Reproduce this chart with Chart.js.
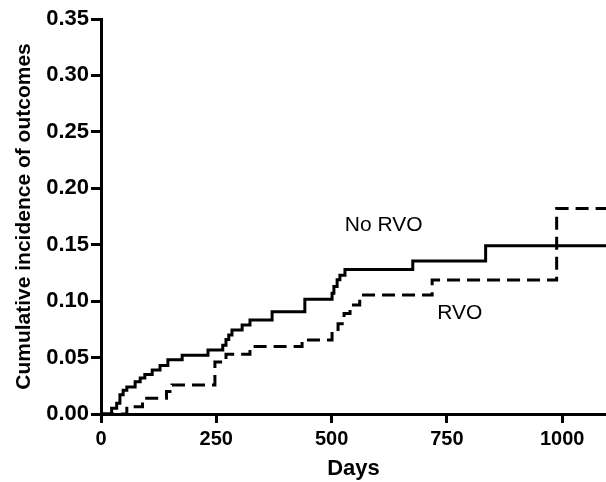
<!DOCTYPE html>
<html>
<head>
<meta charset="utf-8">
<script src="https://cdn.jsdelivr.net/npm/chart.js@4"></script>
<style>
  html, body { margin: 0; padding: 0; background: #fff; }
  #wrap { width: 606px; height: 482px; }
</style>
</head>
<body>
<div id="wrap"><canvas id="incidenceChart" width="606" height="482"></canvas></div>
<script>
// step points (day, cumulative incidence from that day on)
const noRvoDays = [0, 23, 34, 41, 48, 56, 74, 85, 95, 111, 128, 145, 176, 232, 264, 271, 277, 284, 306, 323, 371, 442, 501, 505, 512, 518, 529, 676, 834, 1095];
const noRvoInc  = [0, 0.005, 0.0095, 0.017, 0.021, 0.024, 0.0286, 0.032, 0.035, 0.039, 0.043, 0.048, 0.052, 0.0567, 0.061, 0.066, 0.070, 0.0744, 0.0789, 0.0833, 0.0906, 0.1016, 0.107, 0.113, 0.119, 0.123, 0.128, 0.1356, 0.149, 0.149];

const rvoDays = [0, 56, 90, 142, 154, 247, 271, 323, 436, 501, 514, 527, 540, 561, 718, 988, 1095];
const rvoInc  = [0, 0.0065, 0.014, 0.02, 0.0257, 0.046, 0.053, 0.0597, 0.0656, 0.073, 0.080, 0.089, 0.0966, 0.1054, 0.1187, 0.182, 0.182];

const xTicks = [0, 250, 500, 750, 1000];
const yTicks = [0, 0.05, 0.10, 0.15, 0.20, 0.25, 0.30, 0.35];

// curve labels placed in data units
const curveLabels = [
  { text: 'No RVO', x: 613, y: 0.1675 },
  { text: 'RVO', x: 778, y: 0.089 }
];

function toPoints(days, vals) {
  return days.map((d, i) => ({ x: d, y: vals[i] }));
}

const fontFam = "'Liberation Sans', Arial, Helvetica, sans-serif";

const labelPlugin = {
  id: 'curveLabels',
  afterDatasetsDraw(chart) {
    const ctx = chart.ctx;
    const xs = chart.scales.x, ys = chart.scales.y;
    ctx.save();
    ctx.font = '21px ' + fontFam;
    ctx.fillStyle = '#000';
    ctx.textAlign = 'center';
    ctx.textBaseline = 'middle';
    curveLabels.forEach(l => {
      ctx.fillText(l.text, xs.getPixelForValue(l.x), ys.getPixelForValue(l.y));
    });
    ctx.restore();
  }
};

const whiteBg = {
  id: 'whiteBg',
  beforeDraw(chart) {
    const ctx = chart.ctx;
    ctx.save();
    ctx.fillStyle = '#fff';
    ctx.fillRect(0, 0, chart.width, chart.height);
    ctx.restore();
  }
};

new Chart(document.getElementById('incidenceChart').getContext('2d'), {
  type: 'line',
  data: {
    datasets: [{
      label: 'No RVO',
      data: toPoints(noRvoDays, noRvoInc),
      borderColor: '#000',
      borderWidth: 3,
      stepped: 'before',
      pointRadius: 0,
      fill: false
    }, {
      label: 'RVO',
      data: toPoints(rvoDays, rvoInc),
      borderColor: '#000',
      borderWidth: 3,
      borderDash: [13, 7],
      stepped: 'before',
      pointRadius: 0,
      fill: false
    }]
  },
  options: {
    responsive: false,
    animation: false,
    layout: { padding: { top: 19, right: 0, left: 0, bottom: 0 } },
    plugins: {
      legend: { display: false },
      tooltip: { enabled: false }
    },
    scales: {
      x: {
        type: 'linear',
        min: 0,
        max: 1095,
        afterBuildTicks: s => { s.ticks = xTicks.map(v => ({ value: v })); },
        afterFit: s => { s.height = 68; },
        grid: { drawOnChartArea: false, color: '#000', lineWidth: 3, tickLength: 9 },
        border: { color: '#000', width: 3 },
        ticks: {
          color: '#000',
          padding: 4,
          maxRotation: 0,
          font: { family: fontFam, size: 20, weight: 'bold' },
          callback: v => String(v)
        },
        title: {
          display: true,
          text: 'Days',
          color: '#000',
          padding: { top: 0, bottom: 0 },
          font: { family: fontFam, size: 22, weight: 'bold' }
        }
      },
      y: {
        min: 0,
        max: 0.35,
        afterBuildTicks: s => { s.ticks = yTicks.map(v => ({ value: v })); },
        afterFit: s => { s.width = 101; },
        grid: { drawOnChartArea: false, color: '#000', lineWidth: 3, tickLength: 10 },
        border: { color: '#000', width: 3 },
        ticks: {
          color: '#000',
          padding: 2,
          font: { family: fontFam, size: 22, weight: 'bold' },
          callback: v => v.toFixed(2)
        },
        title: {
          display: true,
          text: 'Cumulative incidence of outcomes',
          color: '#000',
          padding: { top: 12, bottom: 0 },
          font: { family: fontFam, size: 21, weight: 'bold' }
        }
      }
    }
  },
  plugins: [whiteBg, labelPlugin]
});
</script>
</body>
</html>
